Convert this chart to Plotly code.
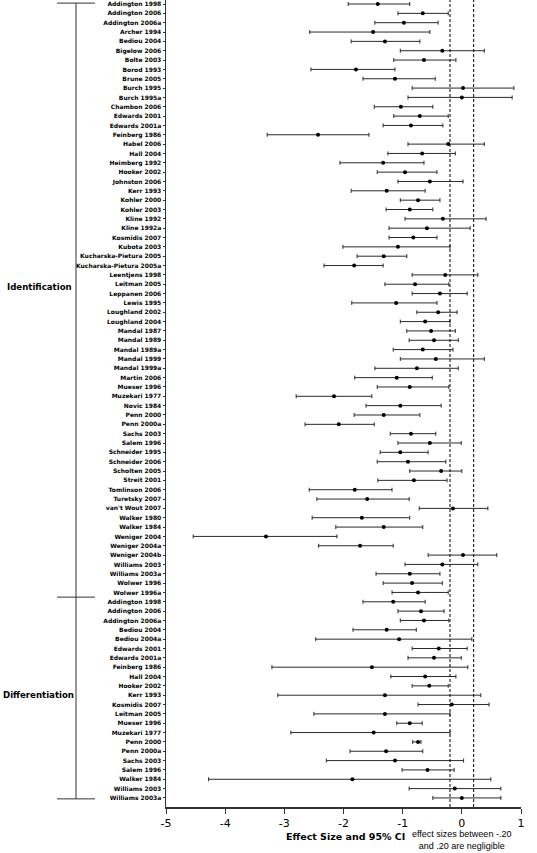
import plotly.graph_objects as go

# ---------------- data ----------------
ident_labels = [
    "Addington 1998", "Addington 2006", "Addington 2006a", "Archer 1994", "Bediou 2004",
    "Bigelow 2006", "Bolte 2003", "Borod 1993", "Brune 2005", "Burch 1995", "Burch 1995a",
    "Chambon 2006", "Edwards 2001", "Edwards 2001a", "Feinberg 1986", "Habel 2006",
    "Hall 2004", "Heimberg 1992", "Hooker 2002", "Johnston 2006", "Kerr 1993",
    "Kohler 2000", "Kohler 2003", "Kline 1992", "Kline 1992a", "Kosmidis 2007",
    "Kubota 2003", "Kucharska-Pietura 2005", "Kucharska-Pietura 2005a", "Leentjens 1998",
    "Leitman 2005", "Leppanen 2006", "Lewis 1995", "Loughland 2002", "Loughland 2004",
    "Mandal 1987", "Mandal 1989", "Mandal 1989a", "Mandal 1999", "Mandal 1999a",
    "Martin 2006", "Mueser 1996", "Muzekari 1977", "Novic 1984", "Penn 2000",
    "Penn 2000a", "Sachs 2003", "Salem 1996", "Schneider 1995", "Schneider 2006",
    "Scholten 2005", "Streit 2001", "Tomlinson 2006", "Turetsky 2007", "van't Wout 2007",
    "Walker 1980", "Walker 1984", "Weniger 2004", "Weniger 2004a", "Weniger 2004b",
    "Williams 2003", "Williams 2003a", "Wolwer 1996", "Wolwer 1996a",
]
ident_es = [
    -1.42, -0.66, -0.98, -1.50, -1.30, -0.33, -0.64, -1.79, -1.13, 0.02, 0.00,
    -1.03, -0.71, -0.86, -2.43, -0.23, -0.67, -1.33, -0.96, -0.54, -1.27,
    -0.74, -0.88, -0.32, -0.59, -0.82, -1.08, -1.32, -1.82, -0.28,
    -0.79, -0.37, -1.11, -0.40, -0.62, -0.52, -0.47, -0.66, -0.44, -0.76,
    -1.10, -0.88, -2.16, -1.04, -1.32, -2.08, -0.86, -0.54, -1.04, -0.91,
    -0.35, -0.81, -1.81, -1.60, -0.15, -1.69, -1.32, -3.31, -1.72, 0.02,
    -0.33, -0.88, -0.84, -0.74,
]
ident_lo = [
    -1.92, -1.08, -1.47, -2.57, -1.87, -1.04, -1.15, -2.55, -1.67, -0.84, -0.91,
    -1.48, -1.15, -1.33, -3.29, -0.91, -1.25, -2.06, -1.43, -1.08, -1.87,
    -1.04, -1.28, -0.96, -1.23, -1.23, -2.01, -1.77, -2.33, -0.84,
    -1.30, -0.84, -1.86, -0.76, -1.04, -0.93, -0.89, -1.16, -1.04, -1.47,
    -1.81, -1.43, -2.80, -1.62, -1.82, -2.65, -1.21, -1.08, -1.38, -1.43,
    -0.88, -1.42, -2.58, -2.45, -0.72, -2.53, -2.13, -4.54, -2.42, -0.57,
    -0.96, -1.45, -1.33, -1.18,
]
ident_hi = [
    -0.88, -0.23, -0.40, -0.54, -0.71, 0.38, -0.10, -1.13, -0.45, 0.88, 0.85,
    -0.49, -0.23, -0.32, -1.57, 0.38, -0.11, -0.64, -0.42, 0.02, -0.62,
    -0.37, -0.49, 0.41, 0.14, -0.42, -0.20, -0.93, -1.33, 0.27,
    -0.22, 0.09, -0.42, -0.08, -0.20, -0.11, -0.06, -0.15, 0.38, -0.06,
    -0.50, -0.22, -1.52, -0.35, -0.71, -1.48, -0.44, -0.01, -0.57, -0.27,
    0.00, -0.25, -1.18, -0.89, 0.44, -0.88, -0.66, -2.11, -1.16, 0.59,
    0.27, -0.37, -0.33, -0.23,
]

diff_labels = [
    "Addington 1998", "Addington 2006", "Addington 2006a", "Bediou 2004", "Bediou 2004a",
    "Edwards 2001", "Edwards 2001a", "Feinberg 1986", "Hall 2004", "Hooker 2002",
    "Kerr 1993", "Kosmidis 2007", "Leitman 2005", "Mueser 1996", "Muzekari 1977",
    "Penn 2000", "Penn 2000a", "Sachs 2003", "Salem 1996", "Walker 1984",
    "Williams 2003", "Williams 2003a",
]
diff_es = [
    -1.16, -0.69, -0.64, -1.27, -1.06, -0.39, -0.47, -1.52, -0.62, -0.55,
    -1.30, -0.17, -1.30, -0.88, -1.49, -0.74, -1.28, -1.13, -0.58, -1.85,
    -0.12, 0.00,
]
diff_lo = [
    -1.67, -1.08, -1.04, -1.84, -2.47, -0.84, -0.91, -3.21, -1.20, -0.84,
    -3.11, -0.74, -2.50, -1.10, -2.89, -0.83, -1.89, -2.29, -1.01, -4.28,
    -0.89, -0.49,
]
diff_hi = [
    -0.62, -0.30, -0.22, -0.77, 0.17, 0.09, -0.01, 0.10, -0.10, -0.23,
    0.32, 0.46, -0.20, -0.67, -0.20, -0.69, -0.66, 0.03, -0.13, 0.49,
    0.66, 0.66,
]

group_names = ["Identification", "Differentiation"]
x_tick_values = [-5, -4, -3, -2, -1, 0, 1]
x_tick_labels = ["-5", "-4", "-3", "-2", "-1", "0", "1"]
negligible_bounds = [-0.2, 0.2]

# ---------------- assemble ----------------
labels = ident_labels + diff_labels
es = ident_es + diff_es
lo = ident_lo + diff_lo
hi = ident_hi + diff_hi
rows = list(range(len(labels)))
n_ident = len(ident_labels)
n_total = len(labels)

fig = go.Figure(
    go.Scatter(
        x=es, y=rows, mode="markers",
        marker=dict(color="black", size=4),
        error_x=dict(
            type="data", symmetric=False,
            array=[h - e for h, e in zip(hi, es)],
            arrayminus=[e - l for e, l in zip(es, lo)],
            color="#2a2a2a", thickness=1, width=2,
        ),
        hoverinfo="skip",
        showlegend=False,
    )
)

# plot pixel geometry helpers (paper coordinates)
L, R = 166, 521
PW = R - L
PH = 807
def px(x):
    return (x - L) / PW
def py(y):
    return (PH - y) / PH

shapes = []
for b in negligible_bounds:
    shapes.append(dict(type="line", xref="x", yref="paper", x0=b, x1=b, y0=0, y1=1,
                       line=dict(color="black", width=1, dash="3px,2px")))
# bracket
shapes.append(dict(type="line", xref="paper", yref="y", x0=px(76), x1=px(76),
                   y0=-0.1, y1=n_total - 0.9, line=dict(color="#333", width=1)))
for yy in [-0.1, n_ident - 0.5, n_total - 0.9]:
    shapes.append(dict(type="line", xref="paper", yref="y", x0=px(57), x1=px(95),
                       y0=yy, y1=yy, line=dict(color="#333", width=1)))

annotations = [
    dict(text="<b>" + group_names[0] + "</b>", xref="paper", yref="y", x=px(74), y=30.3,
         xanchor="right", yanchor="middle", showarrow=False,
         font=dict(family="DejaVu Sans", size=8.6, color="black")),
    dict(text="<b>" + group_names[1] + "</b>", xref="paper", yref="y", x=px(76), y=74.0,
         xanchor="right", yanchor="middle", showarrow=False,
         font=dict(family="DejaVu Sans", size=8.6, color="black")),
    dict(text="<b>Effect Size and 95% CI</b>", xref="paper", yref="paper",
         x=px(345), y=py(836), xanchor="center", yanchor="middle", showarrow=False,
         font=dict(family="DejaVu Sans", size=9.5, color="black")),
    dict(text="effect sizes between -.20<br>and .20 are negligible", xref="paper", yref="paper",
         x=px(461), y=py(840), xanchor="center", yanchor="middle", showarrow=False,
         align="center", font=dict(family="Liberation Sans", size=9, color="black")),
]

fig.update_layout(
    width=537, height=853,
    margin=dict(l=L, r=537 - R, t=0, b=853 - PH, autoexpand=False),
    plot_bgcolor="white", paper_bgcolor="white",
    shapes=shapes, annotations=annotations,
    xaxis=dict(range=[-5, 1], tickvals=x_tick_values, ticktext=x_tick_labels,
               ticks="outside", ticklen=5, tickwidth=1, tickcolor="#333",
               showline=True, linecolor="#333", linewidth=1.5,
               showgrid=False, zeroline=False, automargin=False,
               tickfont=dict(family="DejaVu Sans", size=11, color="black")),
    yaxis=dict(range=[85.97, -0.43], tickvals=rows, ticktext=labels,
               ticks="outside", ticklen=2, tickwidth=1, tickcolor="#333",
               showline=True, linecolor="#333", linewidth=1.5,
               showgrid=False, zeroline=False, automargin=False,
               tickfont=dict(family="DejaVu Sans", size=6, color="black", weight="bold")),
)

fig.write_html(
    "out.html",
    config={"displayModeBar": False, "staticPlot": True},
    post_script="document.body.style.margin='0px';document.body.style.overflow='hidden';",
)
